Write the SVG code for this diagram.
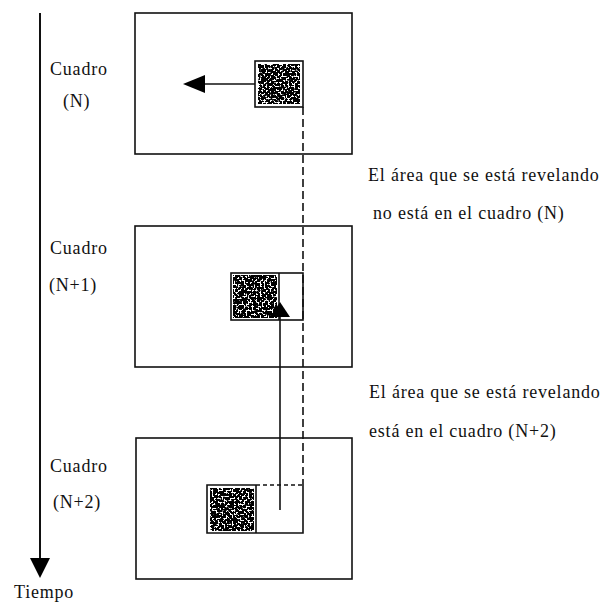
<svg xmlns="http://www.w3.org/2000/svg" width="608" height="602" viewBox="0 0 608 602">
  <style>
    .frame { fill: #fff; stroke: #111; stroke-width: 1.6; }
    .box { fill: none; stroke: #111; stroke-width: 1.6; }
    .line { stroke: #111; stroke-width: 1.6; fill: none; }
    .dash { stroke: #111; stroke-width: 1.6; fill: none; stroke-dasharray: 8 4; }
    .head { fill: #000; stroke: none; }
    .noise { fill: #000; filter: url(#grain); }
    .lbl { font-size: 18px; fill: #111; letter-spacing: 0.8px; }
  </style>
  <defs>
    <!-- speckled black/white fill for the moving block -->
    <filter id="grain" x="0" y="0" width="100%" height="100%" filterUnits="objectBoundingBox">
      <feTurbulence type="fractalNoise" baseFrequency="0.5" numOctaves="2" seed="7" result="n"/>
      <feColorMatrix in="n" type="matrix" values="0 0 0 0 0  0 0 0 0 0  0 0 0 0 0  -16 0 0 0 9.4" result="m"/>
      <feComposite in="m" in2="SourceGraphic" operator="in"/>
    </filter>
  </defs>
  <rect width="608" height="602" fill="#fff"/>

  <g font-family="'Liberation Serif', 'DejaVu Serif', serif">
  <!-- time axis -->
  <g id="time-axis">
    <line class="line" x1="40" y1="13" x2="40" y2="560" style="stroke-width:2"/>
    <polygon class="head" points="30,558 50,558 40,578"/>
    <text class="lbl" x="14" y="598">Tiempo</text>
  </g>

  <!-- frame N -->
  <g id="frame-n">
    <rect class="frame" x="135" y="13" width="217" height="141"/>
    <rect class="noise" x="258" y="64" width="42" height="40"/>
    <rect class="box" x="255" y="61" width="48" height="46"/>
    <text class="lbl" x="50" y="75">Cuadro</text>
    <text class="lbl" x="63" y="107">(N)</text>
  </g>

  <!-- frame N+1 -->
  <g id="frame-n1">
    <rect class="frame" x="135" y="226" width="217" height="141"/>
    <rect class="noise" x="233" y="275" width="44" height="43"/>
    <rect class="box" x="231" y="273" width="72" height="47"/>
    <line class="line" x1="279" y1="273" x2="279" y2="320"/>
    <text class="lbl" x="50" y="254">Cuadro</text>
    <text class="lbl" x="49" y="291">(N+1)</text>
  </g>

  <!-- frame N+2 -->
  <g id="frame-n2">
    <rect class="frame" x="136" y="438" width="216" height="141"/>
    <rect class="noise" x="210" y="488" width="44" height="43"/>
    <path class="box" d="M256,485 H207 V533 H303 V485"/>
    <line class="line" x1="256" y1="485" x2="256" y2="533"/>
    <line class="line" x1="256" y1="485" x2="303" y2="485" style="stroke-dasharray:4 3"/>
    <text class="lbl" x="50" y="472">Cuadro</text>
    <text class="lbl" x="53" y="508">(N+2)</text>
  </g>

  <!-- connectors -->
  <g id="connectors">
    <line class="line" x1="255" y1="84" x2="203" y2="84"/>
    <polygon class="head" points="183,84 205,75 205,93"/>
    <line class="dash" x1="303" y1="107" x2="303" y2="485"/>
    <line class="line" x1="280" y1="510" x2="280" y2="315"/>
    <polygon class="head" points="280,302 270,317 290,317"/>
  </g>

  <!-- notes -->
  <g id="notes">
    <text class="lbl" x="368" y="181">El área que se está revelando</text>
    <text class="lbl" x="373" y="219">no está en el cuadro (N)</text>
    <text class="lbl" x="369" y="398">El área que se está revelando</text>
    <text class="lbl" x="369" y="437">está en el cuadro (N+2)</text>
  </g>
  </g>
</svg>
